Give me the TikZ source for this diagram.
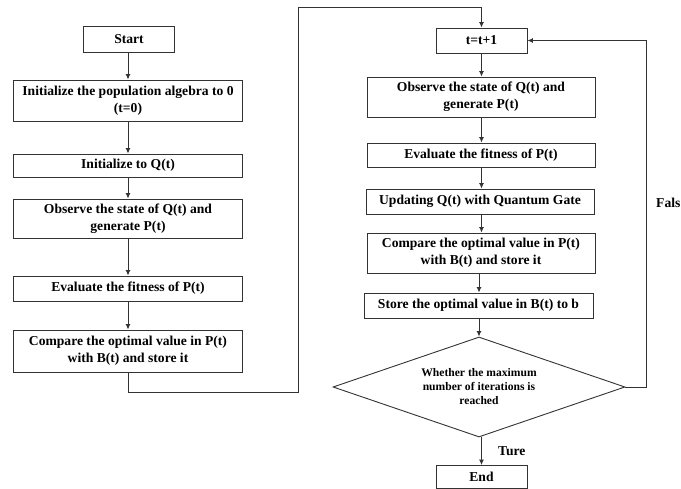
\documentclass[tikz,border=0pt]{standalone}
\usepackage{fontspec}
\setmainfont{Liberation Serif}
\usetikzlibrary{arrows.meta,shapes.geometric}
\begin{document}
\begin{tikzpicture}[x=1pt,y=-1pt,
  box/.style={draw=black!80, line width=0.9pt, rectangle, inner sep=0pt, align=center,
    font=\fontsize{13.6}{16.7}\selectfont\bfseries},
  dia/.style={draw=black!80, line width=0.9pt, diamond, aspect=2.92, inner sep=0pt, align=center,
    minimum width=292pt, minimum height=100pt,
    font=\fontsize{11.6}{14}\selectfont\bfseries},
  lbl/.style={inner sep=0pt, font=\fontsize{13.6}{16.7}\selectfont\bfseries},
  arr/.style={draw=black!80, line width=0.9pt, -{Latex[length=5.5pt,width=5pt]}},
  ln/.style={draw=black!80, line width=0.9pt}]
\useasboundingbox (0,0) rectangle (681,489);
% left column
\node[box, minimum width=91pt, minimum height=26pt] (start) at (129,39) {Start};
\node[box, minimum width=229pt, minimum height=41pt] (init) at (128,100.5) {Initialize the population algebra to 0\\(t=0)};
\node[box, minimum width=229pt, minimum height=23pt] (initq) at (128,165.5) {Initialize to Q(t)};
\node[box, minimum width=229pt, minimum height=39pt] (obs1) at (128,218.5) {Observe the state of Q(t) and\\generate P(t)};
\node[box, minimum width=229pt, minimum height=25pt] (eval1) at (128,288.5) {Evaluate the fitness of P(t)};
\node[box, minimum width=229pt, minimum height=42pt] (comp1) at (128,351) {Compare the optimal value in P(t)\\with B(t) and store it};
% right column
\node[box, minimum width=91pt, minimum height=25pt] (tplus) at (481.5,40.5) {t=t+1};
\node[box, minimum width=228pt, minimum height=40pt] (obs2) at (481,97) {Observe the state of Q(t) and\\generate P(t)};
\node[box, minimum width=228pt, minimum height=24pt] (eval2) at (481,155) {Evaluate the fitness of P(t)};
\node[box, minimum width=228pt, minimum height=25pt] (upd) at (480,201.5) {Updating Q(t) with Quantum Gate};
\node[box, minimum width=228pt, minimum height=40pt] (comp2) at (481,253) {Compare the optimal value in P(t)\\with B(t) and store it};
\node[box, minimum width=229pt, minimum height=25pt] (store) at (478.5,305.5) {Store the optimal value in B(t) to b};
\node[dia] (dec) at (479,387) {Whether the maximum\\number of iterations is\\reached};
\node[box, minimum width=91pt, minimum height=23pt] (end) at (481.5,477) {End};
% coordinates
\coordinate (c1) at (128,392);
\coordinate (c2) at (298,392);
\coordinate (c3) at (298,7);
\coordinate (c4) at (481.5,7);
\coordinate (f1) at (646,387);
\coordinate (f2) at (646,40.5);
% connectors
\draw[arr] (start.south -| 128,0) -- (init.north -| 128,0);
\draw[arr] (init) -- (initq);
\draw[arr] (initq) -- (obs1);
\draw[arr] (obs1) -- (eval1);
\draw[arr] (eval1) -- (comp1);
\draw[arr] (comp1.south) -- (c1) -- (c2) -- (c3) -- (c4) -- (tplus.north);
\draw[arr] (tplus) -- (tplus |- obs2.north);
\draw[arr] (obs2.south -| tplus) -- (tplus |- eval2.north);
\draw[arr] (eval2.south -| tplus) -- (tplus |- upd.north);
\draw[arr] (upd.south -| tplus) -- (tplus |- comp2.north);
\draw[arr] (comp2.south -| 479,0) -- (store.north -| 479,0);
\draw[arr] (store.south -| dec) -- (dec.north);
\draw[arr] (dec.south -| 481.5,0) -- (end.north);
\draw[arr] (dec.east) -- (f1) -- (f2) -- (tplus.east);
% labels
\node[lbl, anchor=west] (ture) at (498,451) {Ture};
\node[lbl, anchor=west] (fals) at (656,203) {Fals};
\end{tikzpicture}
\end{document}
